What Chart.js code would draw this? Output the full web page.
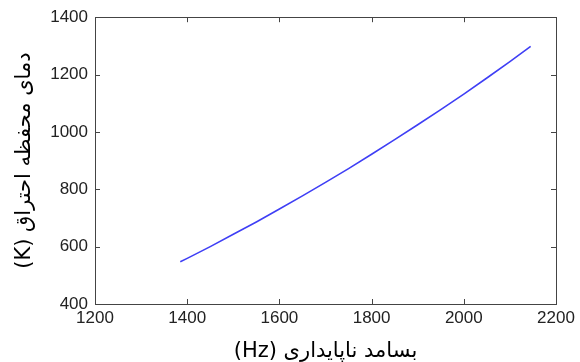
<!DOCTYPE html>
<html>
<head>
<meta charset="utf-8">
<script src="https://cdn.jsdelivr.net/npm/chart.js@4/dist/chart.umd.min.js"></script>
<style>
  html, body { margin: 0; padding: 0; background: #fff; }
  #wrap { width: 580px; height: 362px; }
</style>
</head>
<body>
<div id="wrap"><canvas id="lineChart" width="580" height="362"></canvas></div>
<script>
// frecuencia (Hz) y temperatura (K)
var frecuencia = [1385, 1400, 1450, 1500, 1550, 1600, 1650, 1700, 1750, 1800, 1850, 1900, 1950, 2000, 2050, 2100, 2145];
var temperatura = [547, 559, 600, 643, 686, 731, 777, 824, 872, 922, 973, 1025, 1078, 1132, 1188, 1245, 1298];
var ticksX = [1200, 1400, 1600, 1800, 2000, 2200];
var ticksY = [400, 600, 800, 1000, 1200, 1400];
var tituloX = '(Hz) بسامد ناپایداری';
var tituloY = '(K) دمای محفظه احتراق';

var puntos = [];
for (var i = 0; i < frecuencia.length; i++) {
  puntos.push({x: frecuencia[i], y: temperatura[i]});
}

// marco y marcas hacia adentro (estilo matlab)
var marco = {
  id: 'marco',
  afterDraw: function(chart) {
    var c = chart.ctx, a = chart.chartArea;
    var sx = chart.scales.x, sy = chart.scales.y;
    c.save();
    c.strokeStyle = '#444';
    c.lineWidth = 1;
    c.strokeRect(Math.round(a.left) + 0.5, Math.round(a.top) + 0.5,
                 Math.round(a.right - a.left), Math.round(a.bottom - a.top));
    c.beginPath();
    ticksX.forEach(function(v) {
      var px = Math.round(sx.getPixelForValue(v)) + 0.5;
      c.moveTo(px, a.bottom); c.lineTo(px, a.bottom - 5);
      c.moveTo(px, a.top); c.lineTo(px, a.top + 5);
    });
    ticksY.forEach(function(v) {
      var py = Math.round(sy.getPixelForValue(v)) + 0.5;
      c.moveTo(a.left, py); c.lineTo(a.left + 5, py);
      c.moveTo(a.right, py); c.lineTo(a.right - 5, py);
    });
    c.stroke();
    c.restore();
  }
};

var ctxL = document.getElementById('lineChart').getContext('2d');
var myLineChart = new Chart(ctxL, {
  type: 'scatter',
  data: {
    datasets: [{
      data: puntos,
      showLine: true,
      borderColor: '#3f3ff5',
      borderWidth: 1.6,
      pointRadius: 0,
      tension: 0,
      fill: false
    }]
  },
  options: {
    responsive: false,
    animation: false,
    layout: { padding: { top: 17, right: 24, left: 0, bottom: 0 } },
    plugins: { legend: { display: false }, tooltip: { enabled: false } },
    scales: {
      x: {
        type: 'linear', min: 1200, max: 2200,
        afterBuildTicks: function(s) { s.ticks = ticksX.map(function(v) { return {value: v}; }); },
        afterFit: function(s) { s.height = 58; },
        grid: { display: false, drawTicks: false },
        border: { display: false },
        ticks: { color: '#222', padding: 4, maxRotation: 0,
                 font: { family: 'Liberation Sans', size: 17 },
                 callback: function(v) { return String(v); } },
        title: { display: true, text: tituloX, color: '#000', padding: { top: 0, bottom: -2 },
                 font: { family: 'DejaVu Sans', size: 21 } }
      },
      y: {
        type: 'linear', min: 400, max: 1400,
        afterBuildTicks: function(s) { s.ticks = ticksY.map(function(v) { return {value: v}; }); },
        afterFit: function(s) { s.width = 95; },
        grid: { display: false, drawTicks: false },
        border: { display: false },
        ticks: { color: '#222', padding: 7,
                 font: { family: 'Liberation Sans', size: 17 },
                 callback: function(v) { return String(v); } },
        title: { display: true, text: tituloY, color: '#000', padding: { top: 12, bottom: 0 },
                 font: { family: 'DejaVu Sans', size: 21 } }
      }
    }
  },
  plugins: [marco]
});
</script>
</body>
</html>
